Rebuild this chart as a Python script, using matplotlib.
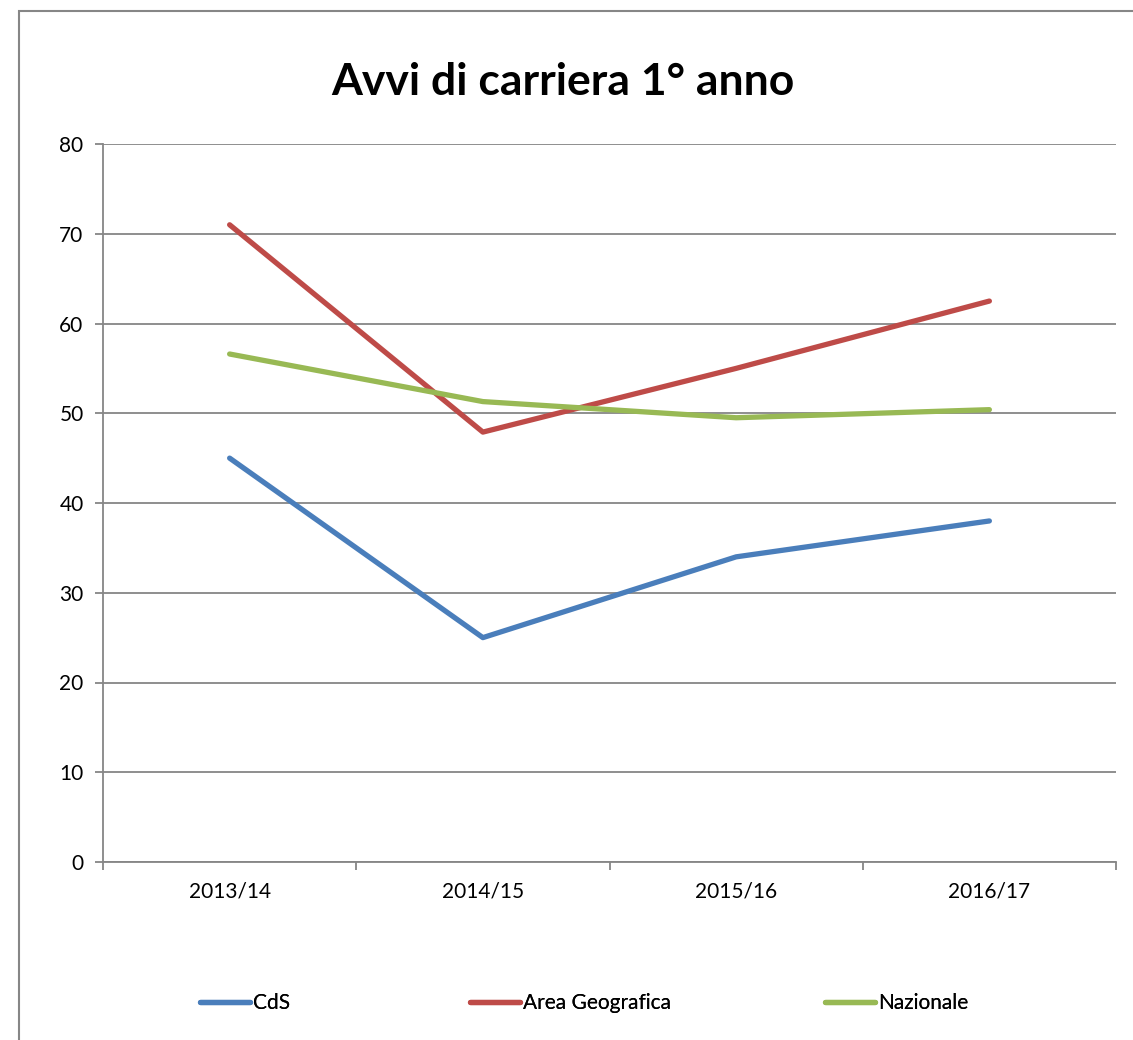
import matplotlib.pyplot as plt
from matplotlib.patches import Rectangle

# Data
years = ["2013/14", "2014/15", "2015/16", "2016/17"]
cds = [45.0, 25.0, 34.0, 38.0]
area_geo = [71.0, 47.9, 55.0, 62.5]
nazionale = [56.6, 51.3, 49.5, 50.4]

plt.rcParams['font.family'] = ['Lato', 'DejaVu Sans']

W, H = 1133, 1040
fig = plt.figure(figsize=(W / 100, H / 100), dpi=100)

# outer chart border (right and bottom fall outside the image)
fig.patches.append(Rectangle((19 / W, -0.5), 2.0, 1.5 - 11 / H, transform=fig.transFigure,
                             fill=False, edgecolor="#868686", linewidth=1.5))

ax = fig.add_axes([103 / W, 1 - 862 / H, (1116 - 103) / W, (862 - 144) / H])

x = range(len(years))
lines = []
lines += ax.plot(x, cds, color="#4A7EBB", lw=3.8, label="CdS", solid_capstyle="round")
lines += ax.plot(x, area_geo, color="#BE4B48", lw=3.8, label="Area Geografica", solid_capstyle="round")
lines += ax.plot(x, nazionale, color="#98B954", lw=3.8, label="Nazionale", solid_capstyle="round")

ax.set_xlim(-0.5, 3.5)
ax.set_ylim(0, 80)
ax.set_yticks(range(0, 81, 10))
ax.set_xticks(list(x))
ax.set_xticklabels(years)
ax.set_xticks([-0.5, 0.5, 1.5, 2.5, 3.5], minor=True)
ax.tick_params(axis="x", which="major", length=0, pad=14, labelsize=15)
ax.tick_params(axis="x", which="minor", length=6, color="#868686", width=1.3)
ax.tick_params(axis="y", length=6, color="#868686", width=1.3, pad=8, labelsize=15)
ax.grid(axis="y", color="#868686", lw=1.3)
ax.set_axisbelow(True)
for s in ["top", "right"]:
    ax.spines[s].set_visible(False)
for s in ["left", "bottom"]:
    ax.spines[s].set_color("#868686")
    ax.spines[s].set_linewidth(1.3)

fig.text(563 / W, 1 - 82 / H, "Avvi di carriera 1° anno", ha="center", va="center",
         fontsize=32, fontweight="bold")

# legend entries placed one by one, as in the original
for ln, xl in zip(lines, [200, 470, 825]):
    lg = fig.legend(handles=[ln], loc="center left", bbox_to_anchor=(xl / W, 1 - 1003 / H),
                    frameon=False, fontsize=15, handlelength=2.4, handletextpad=0.15,
                    borderaxespad=0, borderpad=0)
    fig.add_artist(lg)

fig.savefig("out.png", dpi=100)
